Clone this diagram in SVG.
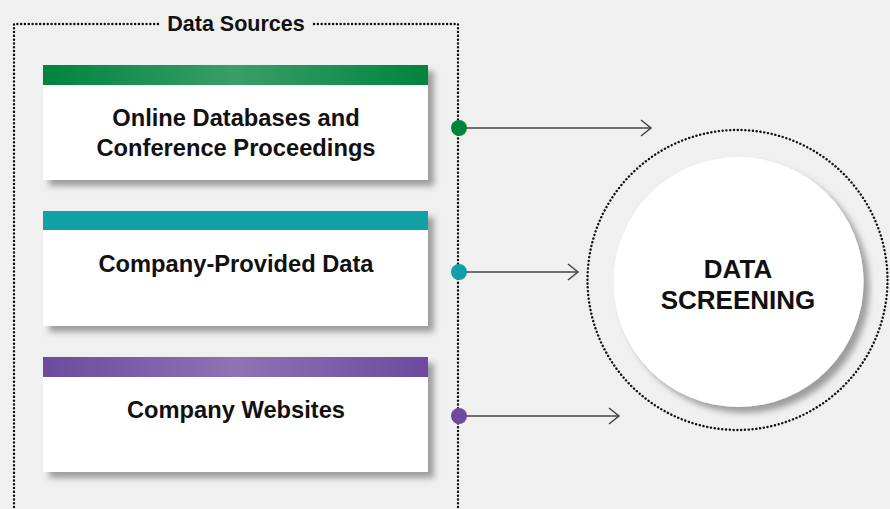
<svg xmlns="http://www.w3.org/2000/svg" width="890" height="509" viewBox="0 0 890 509">
<defs>
<style>
.dot{fill:none;stroke:#111;stroke-width:2.4;stroke-dasharray:0.1 3.7;stroke-linecap:round}
.card{fill:#fff}
.t{font-family:"Liberation Sans",Arial,sans-serif;font-weight:bold;fill:#111;text-anchor:middle}
.conn{stroke:#444;stroke-width:1.5;fill:none}
</style>
<linearGradient id="gG" x1="0" x2="1" y1="0" y2="0">
<stop offset="0" stop-color="#00843d"/><stop offset="0.5" stop-color="#3a9e68"/><stop offset="1" stop-color="#00843d"/>
</linearGradient>
<linearGradient id="gP" x1="0" x2="1" y1="0" y2="0">
<stop offset="0" stop-color="#6c4a9e"/><stop offset="0.5" stop-color="#8f73b3"/><stop offset="1" stop-color="#6c4a9e"/>
</linearGradient>
<filter id="sh" x="-10%" y="-20%" width="125%" height="150%">
<feGaussianBlur in="SourceAlpha" stdDeviation="3"/>
<feOffset dx="6" dy="6"/>
<feComponentTransfer><feFuncA type="linear" slope="0.35"/></feComponentTransfer>
<feMerge><feMergeNode/><feMergeNode in="SourceGraphic"/></feMerge>
</filter>
<marker id="arr" markerWidth="14" markerHeight="20" refX="12" refY="10" orient="auto" markerUnits="userSpaceOnUse">
<path d="M2,2 L12,10 L2,18" fill="none" stroke="#444" stroke-width="1.5"/>
</marker>
</defs>
<rect width="890" height="509" fill="#f0f0f0"/>

<g id="data-sources">
<path class="dot" d="M158,24 H14 V509 M314,24 H458 V509"/>
<text class="t" x="236" y="31" font-size="21.5">Data Sources</text>
</g>

<g id="online-databases">
<rect class="card" x="43" y="65" width="385" height="115" filter="url(#sh)"/>
<rect x="43" y="65" width="385" height="20" fill="url(#gG)"/>
<text class="t" x="236" y="126" font-size="23.7">Online Databases and</text>
<text class="t" x="236" y="156" font-size="23.7">Conference Proceedings</text>
</g>

<g id="company-provided">
<rect class="card" x="43" y="211" width="385" height="115" filter="url(#sh)"/>
<rect x="43" y="211" width="385" height="19" fill="#10a0a6"/>
<text class="t" x="236" y="272" font-size="23.7">Company-Provided Data</text>
</g>

<g id="company-websites">
<rect class="card" x="43" y="357" width="385" height="115" filter="url(#sh)"/>
<rect x="43" y="357" width="385" height="20" fill="url(#gP)"/>
<text class="t" x="236" y="418" font-size="23.7">Company Websites</text>
</g>

<g id="data-screening">
<circle class="dot" cx="737.5" cy="280" r="150"/>
<circle cx="738.5" cy="282" r="125" fill="#fff" filter="url(#sh)"/>
<text class="t" x="738" y="278" font-size="26">DATA</text>
<text class="t" x="738" y="309" font-size="26">SCREENING</text>
</g>

<g id="connectors">
<line class="conn" x1="459" y1="128" x2="651" y2="128" marker-end="url(#arr)"/>
<line class="conn" x1="459" y1="272" x2="578" y2="272" marker-end="url(#arr)"/>
<line class="conn" x1="459" y1="416" x2="619" y2="416" marker-end="url(#arr)"/>
<circle cx="459" cy="128" r="8" fill="#00843d"/>
<circle cx="459" cy="272" r="8" fill="#10a0a6"/>
<circle cx="459" cy="416" r="8" fill="#6c4a9e"/>
</g>
</svg>
